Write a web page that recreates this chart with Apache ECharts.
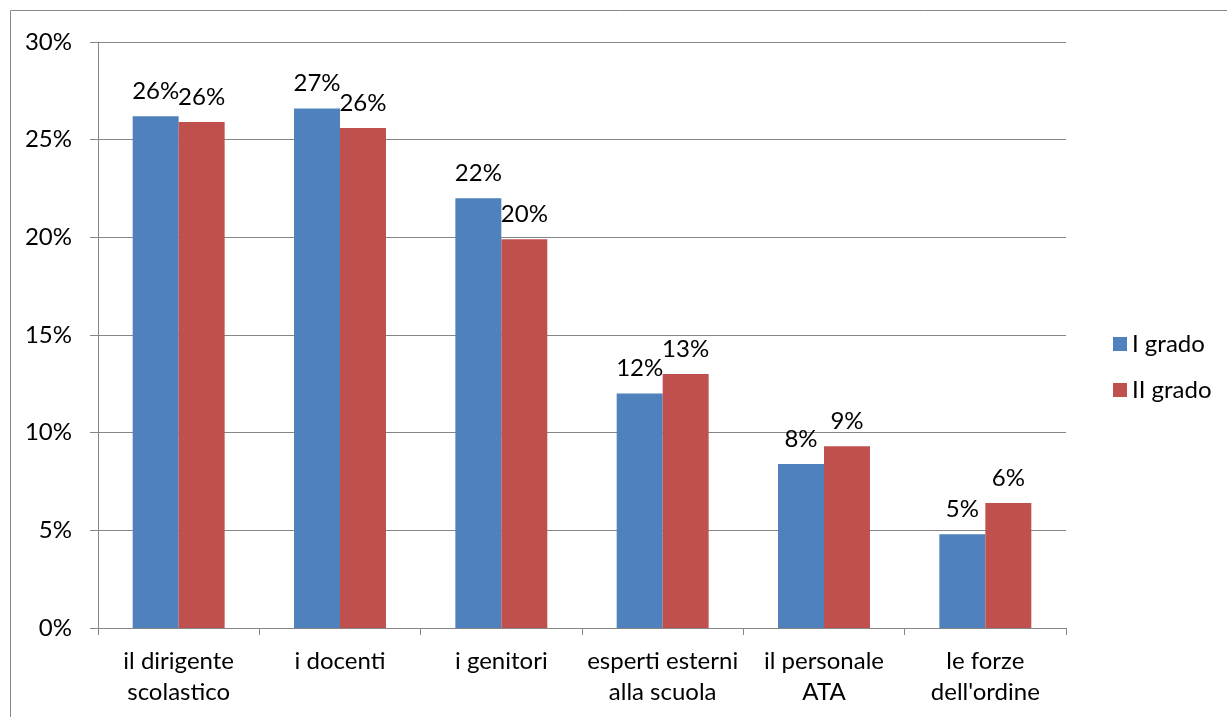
<!DOCTYPE html>
<html>
<head>
<meta charset="utf-8">
<script src="https://cdn.jsdelivr.net/npm/echarts@6/dist/echarts.min.js"></script>
<style>
  html, body { margin: 0; padding: 0; background: #fff; }
  #chart { width: 1227px; height: 717px; }
</style>
</head>
<body>
<div id="chart"></div>
<script>
// Categories (two-line labels) and the two school levels
const categories = [
  'il dirigente\nscolastico',
  'i docenti',
  'i genitori',
  'esperti esterni\nalla scuola',
  'il personale\nATA',
  'le forze\ndell\'ordine'
];
const seriesNames = ['I grado', 'II grado'];
const primoGrado = [26.2, 26.6, 22.0, 12.0, 8.4, 4.8];
const secondoGrado = [25.9, 25.6, 19.9, 13.0, 9.3, 6.4];
const yTicks = { min: 0, max: 30, interval: 5 };

const FONT = 'Lato';
const FONT_SIZE = 24;
const GRID_COLOR = '#868686';

const chart = echarts.init(document.getElementById('chart'));

const labelOpt = {
  show: true,
  position: 'top',
  distance: 13,
  color: '#000',
  fontFamily: FONT,
  fontSize: FONT_SIZE,
  formatter: p => Math.round(p.value) + '%'
};

chart.setOption({
  animation: false,
  textStyle: { fontFamily: FONT },
  graphic: [{
    type: 'rect',
    shape: { x: 10.5, y: 10.5, width: 1230, height: 720 },
    style: { fill: 'none', stroke: '#888', lineWidth: 1 },
    silent: true
  }],
  grid: { left: 98, right: 161, top: 42, bottom: 89 },
  legend: {
    orient: 'vertical',
    left: 1108,
    top: 327,
    itemWidth: 14,
    itemHeight: 14,
    itemGap: 22,
    icon: 'rect',
    textStyle: { fontFamily: FONT, fontSize: FONT_SIZE, color: '#000', padding: [0, 0, 0, 0] },
    data: seriesNames
  },
  xAxis: {
    type: 'category',
    data: categories,
    axisLine: { lineStyle: { color: GRID_COLOR, width: 1 } },
    axisTick: { show: true, length: 7, alignWithLabel: false, lineStyle: { color: GRID_COLOR } },
    axisLabel: {
      color: '#000',
      fontFamily: FONT,
      fontSize: FONT_SIZE,
      lineHeight: 31,
      margin: 18,
      interval: 0
    }
  },
  yAxis: {
    type: 'value',
    min: yTicks.min,
    max: yTicks.max,
    interval: yTicks.interval,
    axisLine: { show: true, lineStyle: { color: GRID_COLOR, width: 1 } },
    axisTick: { show: true, length: 8, lineStyle: { color: GRID_COLOR } },
    splitLine: { lineStyle: { color: GRID_COLOR, width: 1 } },
    axisLabel: {
      color: '#000',
      fontFamily: FONT,
      fontSize: FONT_SIZE,
      margin: 26,
      formatter: v => v + '%'
    }
  },
  series: [
    {
      name: seriesNames[0],
      type: 'bar',
      data: primoGrado,
      barGap: '0%',
      barCategoryGap: '43%',
      itemStyle: { color: '#4F81BD' },
      label: labelOpt
    },
    {
      name: seriesNames[1],
      type: 'bar',
      data: secondoGrado,
      itemStyle: { color: '#C0504D' },
      label: labelOpt
    }
  ]
});
</script>
</body>
</html>
